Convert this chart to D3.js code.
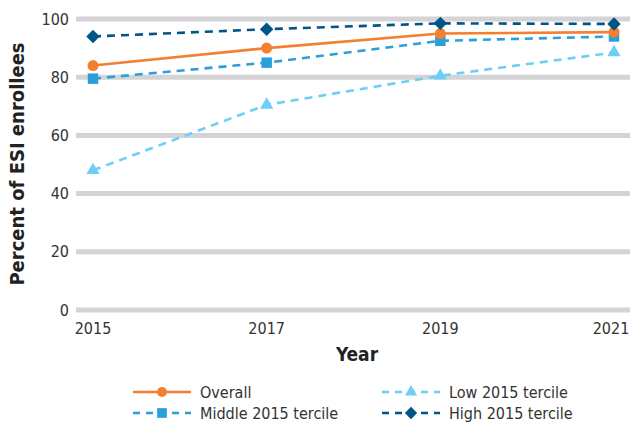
<!DOCTYPE html>
<html><head><meta charset="utf-8">
<script src="https://cdn.jsdelivr.net/npm/d3@7"></script>
<style>
body{margin:0;background:#fff;}
text{font-family:"Liberation Sans Narrow","DejaVu Sans Condensed","Roboto",sans-serif;}
</style></head>
<body><svg id="c" width="631" height="424"></svg>
<script>
const years = [2015, 2017, 2019, 2021];
const overall = [84, 90, 95, 95.5];
const low = [48, 70.5, 80.5, 88.5];
const middle = [79.5, 85, 92.5, 94];
const high = [94, 96.5, 98.5, 98.3];
const yTicks = [0, 20, 40, 60, 80, 100];
const seriesNames = ["Overall", "Low 2015 tercile", "Middle 2015 tercile", "High 2015 tercile"];

const series = [
  {name: seriesNames[0], values: overall, color: "#f47f30", dash: null, sym: d3.symbolCircle, size: 95, rot: 0},
  {name: seriesNames[1], values: low, color: "#6dcff6", dash: "8,6", sym: d3.symbolTriangle, size: 75, rot: 0},
  {name: seriesNames[2], values: middle, color: "#2a9fd8", dash: "8,6", sym: d3.symbolSquare, size: 110, rot: 0},
  {name: seriesNames[3], values: high, color: "#005587", dash: "8,6", sym: d3.symbolSquare, size: 90, rot: 45}
];

const svg = d3.select("#c");
const x = d3.scaleLinear().domain([2015, 2021]).range([93, 614]);
const y = d3.scaleLinear().domain([0, 100]).range([310, 19]);

svg.append("g").selectAll("line").data(yTicks).join("line")
  .attr("x1", 76).attr("x2", 630)
  .attr("y1", d => y(d)).attr("y2", d => y(d))
  .attr("stroke", "#d4d4d6").attr("stroke-width", 5);

svg.append("g").selectAll("text").data(yTicks).join("text")
  .attr("x", 69).attr("y", d => y(d)).attr("dy", "0.35em")
  .attr("text-anchor", "end").attr("font-size", 16).attr("fill", "#333")
  .text(d => d);

svg.append("g").selectAll("text").data(years).join("text")
  .attr("x", (d, i) => x(d) - (i === years.length - 1 ? 3 : 0)).attr("y", 334)
  .attr("text-anchor", "middle").attr("font-size", 16).attr("fill", "#333")
  .text(d => d);

svg.append("text").attr("x", 357).attr("y", 361).attr("text-anchor", "middle")
  .attr("font-size", 19).attr("font-weight", "bold").attr("fill", "#222").text("Year");
svg.append("text").attr("transform", "translate(24,164) rotate(-90)").attr("text-anchor", "middle")
  .attr("font-size", 20).attr("font-weight", "bold").attr("fill", "#222").text("Percent of ESI enrollees");

const line = d3.line().x((d, i) => x(years[i])).y(d => y(d));
const order = [1, 2, 0, 3];
order.forEach(k => {
  const s = series[k];
  const g = svg.append("g");
  g.append("path").datum(s.values).attr("d", line).attr("fill", "none")
    .attr("stroke", s.color).attr("stroke-width", 2.6)
    .attr("stroke-dasharray", s.dash);
  g.selectAll("path.m").data(s.values).join("path").attr("class", "m")
    .attr("transform", (d, i) => `translate(${x(years[i])},${y(d)}) rotate(${s.rot})`)
    .attr("d", d3.symbol().type(s.sym).size(s.size)).attr("fill", s.color);
});

const legPos = [[133, 392], [382, 392], [133, 413], [382, 413]];
series.forEach((s, i) => {
  const [lx, ly] = legPos[i];
  const g = svg.append("g");
  g.append("line").attr("x1", lx).attr("x2", lx + 58).attr("y1", ly).attr("y2", ly)
    .attr("stroke", s.color).attr("stroke-width", 2.6).attr("stroke-dasharray", s.dash ? "7,6" : null);
  g.append("path").attr("transform", `translate(${lx + 29},${ly}) rotate(${s.rot})`)
    .attr("d", d3.symbol().type(s.sym).size(s.size * 0.85)).attr("fill", s.color);
  g.append("text").attr("x", lx + 67).attr("y", ly).attr("dy", "0.35em")
    .attr("font-size", 16).attr("fill", "#333").text(s.name);
});
</script></body></html>
